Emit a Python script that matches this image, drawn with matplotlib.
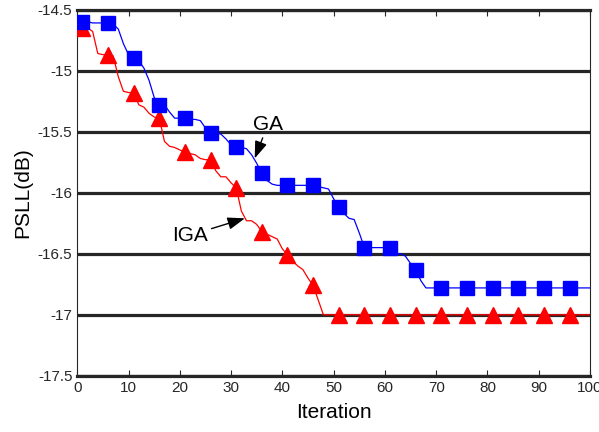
import numpy as np
import matplotlib.pyplot as plt

plt.rcParams['font.family'] = ['Liberation Sans', 'DejaVu Sans']

iterations = list(range(1, 101))

# best PSLL per iteration for the standard GA
ga = [-14.60, -14.60, -14.61, -14.61, -14.61, -14.61, -14.62, -14.66, -14.78, -14.87,
      -14.90, -14.92, -14.98, -15.08, -15.22, -15.28, -15.28, -15.34, -15.39, -15.39,
      -15.39, -15.40, -15.40, -15.41, -15.47, -15.51, -15.51, -15.52, -15.56, -15.61,
      -15.63, -15.63, -15.64, -15.69, -15.76, -15.84, -15.90, -15.93, -15.94, -15.94,
      -15.94, -15.94, -15.94, -15.94, -15.94, -15.94, -15.95, -15.96, -15.97, -16.05,
      -16.12, -16.17, -16.21, -16.22, -16.33, -16.45, -16.45, -16.45, -16.45, -16.45,
      -16.45, -16.50, -16.50, -16.52, -16.58, -16.63, -16.72, -16.78] + [-16.78] * 32

# best PSLL per iteration for the improved GA
iga = [-14.65, -14.65, -14.68, -14.86, -14.87, -14.87, -14.88, -15.05, -15.17, -15.18,
       -15.18, -15.28, -15.30, -15.35, -15.38, -15.39, -15.58, -15.62, -15.63, -15.65,
       -15.67, -15.68, -15.69, -15.72, -15.73, -15.73, -15.82, -15.87, -15.87, -15.92,
       -15.96, -16.15, -16.23, -16.23, -16.26, -16.32, -16.34, -16.36, -16.38, -16.46,
       -16.51, -16.56, -16.60, -16.63, -16.70, -16.76, -16.88, -17.00] + [-17.00] * 52

yticks = [-17.5, -17, -16.5, -16, -15.5, -15, -14.5]
ytick_labels = ['-17.5', '-17', '-16.5', '-16', '-15.5', '-15', '-14.5']

fig = plt.figure(figsize=(5.99, 4.32), dpi=100)
ax = fig.add_axes([0.129, 0.13, 0.856, 0.848])

# thick horizontal grid lines
for yv in yticks:
    ax.axhline(yv, color='#262626', lw=2.3, zorder=1)

ax.plot(iterations, iga, color='red', lw=0.9, marker='^', markersize=11.5,
        markevery=5, markeredgecolor='red', zorder=3)
ax.plot(iterations, ga, color='blue', lw=0.9, marker='s', markersize=9.5,
        markevery=5, markeredgecolor='blue', zorder=4)

ax.set_xlim(0, 100)
ax.set_ylim(-17.5, -14.5)
ax.set_xticks(range(0, 101, 10))
ax.set_yticks(yticks)
ax.set_yticklabels(ytick_labels)
ax.tick_params(axis='both', direction='in', labelsize=11, colors='#262626',
               top=True, length=4)
ax.tick_params(axis='y', length=0)

for side in ['left', 'right']:
    ax.spines[side].set_linewidth(0.8)
    ax.spines[side].set_color('#262626')
for side in ['top', 'bottom']:
    ax.spines[side].set_linewidth(2.3)
    ax.spines[side].set_color('#262626')

ax.set_xlabel('Iteration', fontsize=15, labelpad=6)
ax.set_ylabel('PSLL(dB)', fontsize=15, labelpad=4)

arrow = dict(arrowstyle='-|>,head_length=0.7,head_width=0.25', color='k', lw=1,
             mutation_scale=15, shrinkA=1, shrinkB=0)
ax.annotate('GA', xy=(34.6, -15.72), xytext=(37.2, -15.44), fontsize=15,
            ha='center', va='center', arrowprops=arrow)
ax.annotate('IGA', xy=(32.7, -16.21), xytext=(21.9, -16.35), fontsize=15,
            ha='center', va='center', arrowprops=arrow)

fig.savefig('out.png', dpi=100)
